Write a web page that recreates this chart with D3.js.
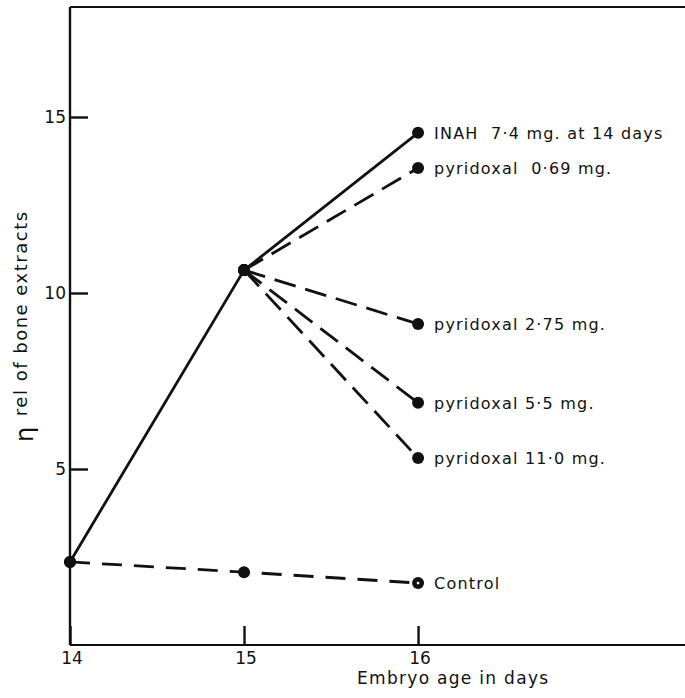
<!DOCTYPE html>
<html>
<head>
<meta charset="utf-8">
<script src="https://cdn.jsdelivr.net/npm/d3@7"></script>
<style>
  body { margin: 0; background: #fff; }
  text { font-family: "DejaVu Sans", sans-serif; fill: #111; }
</style>
</head>
<body>
<svg id="chart" width="685" height="698"></svg>
<script>
// days on x, relative viscosity on y
const days = [14, 15, 16];
const xTicks = [14, 15, 16];
const yTicks = [5, 10, 15];

const controlValues = [2.36, 2.07, 1.76];
const inahValues = [2.36, 10.65, 14.55];
const pyr069Values = [10.65, 13.55];
const pyr275Values = [10.65, 9.12];
const pyr55Values = [10.65, 6.88];
const pyr110Values = [10.65, 5.31];

const seriesLabels = [
  "INAH  7·4 mg. at 14 days",
  "pyridoxal  0·69 mg.",
  "pyridoxal 2·75 mg.",
  "pyridoxal 5·5 mg.",
  "pyridoxal 11·0 mg.",
  "Control"
];

const series = [
  { days: days, values: inahValues, dash: null, label: seriesLabels[0] },
  { days: [15, 16], values: pyr069Values, dash: "22,10", label: seriesLabels[1] },
  { days: [15, 16], values: pyr275Values, dash: "22,10", label: seriesLabels[2] },
  { days: [15, 16], values: pyr55Values, dash: "22,10", label: seriesLabels[3] },
  { days: [15, 16], values: pyr110Values, dash: "22,10", label: seriesLabels[4] },
  { days: days, values: controlValues, dash: "20,12", label: seriesLabels[5], hollow: true }
];

const svg = d3.select("#chart");

const x = d3.scaleLinear().domain([14, 17.534]).range([70, 685]);
const y = d3.scaleLinear().domain([0, 18.125]).range([645, 7]);

// frame: left, top, bottom
svg.append("line").attr("x1", 70).attr("x2", 70).attr("y1", 7).attr("y2", 645)
  .attr("stroke", "#111").attr("stroke-width", 2.4);
svg.append("line").attr("x1", 70).attr("x2", 685).attr("y1", 7).attr("y2", 7)
  .attr("stroke", "#111").attr("stroke-width", 2.2);
svg.append("line").attr("x1", 70).attr("x2", 685).attr("y1", 645).attr("y2", 645)
  .attr("stroke", "#111").attr("stroke-width", 2.2);

// y ticks point inward
const yAxis = svg.append("g")
  .attr("transform", "translate(70,0)")
  .call(d3.axisRight(y).tickValues(yTicks).tickSize(18).tickFormat(""));
yAxis.select(".domain").remove();
yAxis.selectAll("line").attr("stroke", "#111").attr("stroke-width", 2.4);

svg.selectAll(".ylab")
  .data(yTicks)
  .enter()
  .append("text")
  .attr("class", "ylab")
  .attr("x", 66)
  .attr("y", d => y(d))
  .attr("dy", "0.36em")
  .attr("text-anchor", "end")
  .style("font-size", "17px")
  .text(d => d);

// x ticks point up
const xAxis = svg.append("g")
  .attr("transform", "translate(0,645)")
  .call(d3.axisTop(x).tickValues(xTicks).tickSize(19).tickFormat(""));
xAxis.select(".domain").remove();
xAxis.selectAll("line").attr("stroke", "#111").attr("stroke-width", 2.4);

svg.selectAll(".xlab")
  .data(xTicks)
  .enter()
  .append("text")
  .attr("class", "xlab")
  .attr("x", d => x(d) + 2)
  .attr("y", 664)
  .attr("text-anchor", "middle")
  .style("font-size", "17px")
  .text(d => d);

svg.append("text")
  .attr("x", 357)
  .attr("y", 684)
  .style("font-size", "17px")
  .style("letter-spacing", "1.3px")
  .text("Embryo age in days");

const yTitle = svg.append("text")
  .attr("transform", "translate(33,442) rotate(-90)")
  .style("font-size", "18px")
  .style("letter-spacing", "1.5px");
yTitle.append("tspan").style("font-size", "24px").text("η ");
yTitle.append("tspan").attr("dy", "-6").text("rel of bone extracts");

const line = d3.line().x(d => x(d[0])).y(d => y(d[1]));

series.forEach(s => {
  const pts = s.days.map((d, i) => [d, s.values[i]]);
  svg.append("path")
    .datum(pts)
    .attr("d", line)
    .attr("fill", "none")
    .attr("stroke", "#111")
    .attr("stroke-width", 2.8)
    .attr("stroke-dasharray", s.dash);

  svg.selectAll(null)
    .data(pts)
    .enter()
    .append("circle")
    .attr("cx", d => x(d[0]))
    .attr("cy", d => y(d[1]))
    .attr("r", 6)
    .attr("fill", "#111");

  const last = pts[pts.length - 1];
  if (s.hollow) {
    svg.append("circle")
      .attr("cx", x(last[0])).attr("cy", y(last[1]))
      .attr("r", 1.4).attr("fill", "#fff");
  }
  svg.append("text")
    .attr("x", x(last[0]) + 16)
    .attr("y", y(last[1]))
    .attr("dy", "0.36em")
    .style("font-size", "16px")
    .style("letter-spacing", "1.2px")
    .style("white-space", "pre")
    .text(s.label);
});
</script>
</body>
</html>
